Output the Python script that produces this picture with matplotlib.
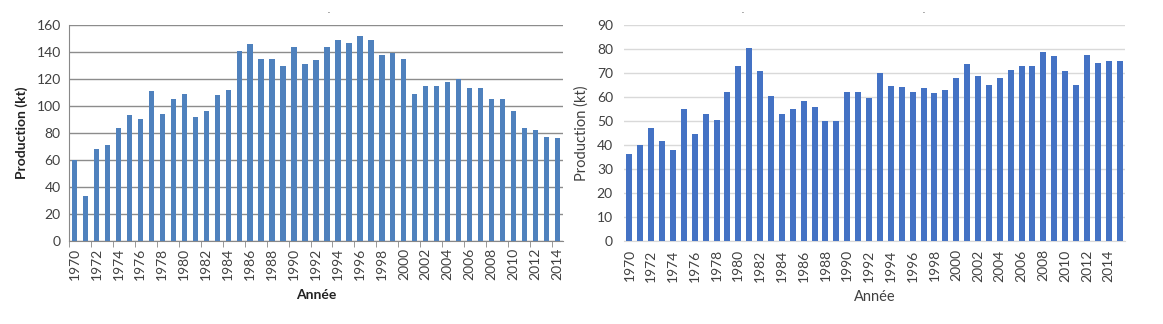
import matplotlib.pyplot as plt
import numpy as np

plt.rcParams['font.family'] = ['Lato', 'DejaVu Sans']

# --------- Data ---------
years_a = list(range(1970, 2015))
prod_a = [60, 33, 68, 71, 84, 93, 90, 111, 94, 105,
          109, 92, 96, 108, 112, 141, 146, 135, 135, 130,
          144, 131, 134, 144, 149, 147, 152, 149, 138, 139,
          135, 109, 115, 115, 118, 120, 113, 113, 105, 105,
          96, 84, 82, 77, 76]

years_b = list(range(1970, 2016))
prod_b = [36.4, 40, 47.2, 41.8, 38, 55, 44.4, 53, 50.4, 62,
          73, 80.6, 71, 60.4, 53, 55, 58.2, 56, 50, 50.2,
          62, 62, 59.5, 70, 64.6, 64.3, 62, 63.6, 61.5, 62.8,
          68, 73.6, 68.8, 65, 68, 71.3, 73, 73, 78.6, 77,
          70.7, 65.2, 77.5, 74.3, 75.1, 75.1]

W, H = 1163, 324
fig = plt.figure(figsize=(W / 100, H / 100), dpi=100)
txt = '#404040'
tick_fs = 10


def setup_years(ax, years):
    x = np.arange(len(years))
    labeled = [i for i, y in enumerate(years) if y % 2 == 0 and y <= 2014]
    ax.set_xticks(labeled)
    ax.set_xticklabels([str(years[i]) for i in labeled], rotation=90,
                       fontsize=tick_fs, color=txt)
    ax.set_xlim(-0.5, len(years) - 0.5)
    return x


# --------- Left chart ---------
ax1 = fig.add_axes([69 / W, 1 - 241 / H, 494 / W, 216 / H])
x1 = setup_years(ax1, years_a)
ax1.bar(x1, prod_a, width=0.48, color='#4f81bd', zorder=3)
ax1.set_ylim(0, 160)
ax1.set_yticks(range(0, 161, 20))
ax1.tick_params(axis='y', length=0, labelsize=tick_fs, labelcolor=txt, pad=6)
ax1.tick_params(axis='x', length=0, pad=5)
ax1.set_xticks(np.arange(-0.5, len(years_a), 2), minor=True)
ax1.tick_params(axis='x', which='minor', length=4, color='#888888')
ax1.grid(axis='y', color='#8c8c8c', linewidth=1, zorder=0)
for s in ['top', 'right']:
    ax1.spines[s].set_visible(False)
for s in ['left', 'bottom']:
    ax1.spines[s].set_color('#888888')
ax1.set_ylabel('Production (kt)', fontsize=10, fontweight='bold', color='#222222', labelpad=6)
ax1.set_xlabel('Année', fontsize=10, fontweight='bold', color='#222222', labelpad=6)

# --------- Right chart ---------
ax2 = fig.add_axes([624 / W, 1 - 241 / H, 501 / W, 216 / H])
x2 = setup_years(ax2, years_b)
ax2.bar(x2, prod_b, width=0.55, color='#4472c4', zorder=3)
ax2.set_ylim(0, 90)
ax2.set_yticks(range(0, 91, 10))
ax2.tick_params(axis='both', length=0, labelsize=tick_fs, labelcolor=txt)
ax2.tick_params(axis='y', pad=8)
ax2.tick_params(axis='x', pad=6)
ax2.grid(axis='y', color='#d9d9d9', linewidth=1, zorder=0)
for s in ['top', 'right', 'left']:
    ax2.spines[s].set_visible(False)
ax2.spines['bottom'].set_color('#d9d9d9')
ax2.set_ylabel('Production (kt)', fontsize=10.5, color=txt, labelpad=6)
ax2.set_xlabel('Année', fontsize=10.5, color=txt, labelpad=6)

# stray title marks
for px in (329, 743, 924):
    fig.text(px / W, 1 - 14 / H, '.', fontsize=6, color='#333333', ha='center', va='bottom')

fig.savefig('out.png', dpi=100)
